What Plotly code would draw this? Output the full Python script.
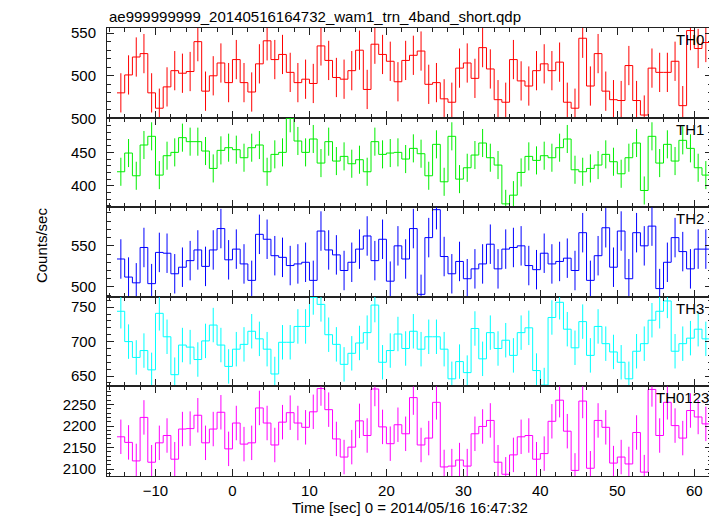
import plotly.graph_objects as go
from plotly.subplots import make_subplots

# Bin centres [sec] (1 s bins)
TIME = [-14.5, -13.5, -12.5, -11.5, -10.5, -9.5, -8.5, -7.5, -6.5, -5.5,
        -4.5, -3.5, -2.5, -1.5, -0.5, 0.5, 1.5, 2.5, 3.5, 4.5,
        5.5, 6.5, 7.5, 8.5, 9.5, 10.5, 11.5, 12.5, 13.5, 14.5,
        15.5, 16.5, 17.5, 18.5, 19.5, 20.5, 21.5, 22.5, 23.5, 24.5,
        25.5, 26.5, 27.5, 28.5, 29.5, 30.5, 31.5, 32.5, 33.5, 34.5,
        35.5, 36.5, 37.5, 38.5, 39.5, 40.5, 41.5, 42.5, 43.5, 44.5,
        45.5, 46.5, 47.5, 48.5, 49.5, 50.5, 51.5, 52.5, 53.5, 54.5,
        55.5, 56.5, 57.5, 58.5, 59.5, 60.5, 61.5]
BIN_HALF = 0.5

TH0 = [480, 501, 522, 526, 480, 462, 487, 506, 503, 505,
       540, 482, 500, 515, 492, 519, 492, 481, 514, 541,
       519, 525, 504, 492, 496, 491, 535, 518, 498, 496,
       506, 530, 484, 537, 525, 517, 493, 518, 524, 529,
       490, 492, 473, 469, 509, 515, 497, 533, 508, 472,
       469, 519, 494, 488, 506, 514, 506, 516, 469, 462,
       544, 488, 526, 482, 472, 471, 512, 471, 454, 509,
       504, 504, 517, 465, 553, 532, 539]

TH1 = [421, 449, 415, 461, 474, 416, 445, 450, 472, 466,
       466, 452, 426, 453, 457, 454, 442, 457, 461, 421,
       447, 450, 501, 467, 450, 470, 434, 466, 437, 444,
       433, 439, 421, 466, 447, 449, 450, 440, 456, 448,
       415, 462, 406, 474, 410, 427, 446, 464, 442, 431,
       373, 386, 420, 444, 438, 445, 442, 457, 470, 424,
       421, 426, 431, 447, 436, 418, 442, 464, 393, 474,
       434, 462, 437, 468, 456, 427, 416]

TH2 = [534, 512, 505, 548, 504, 542, 541, 516, 524, 532,
       545, 525, 545, 571, 533, 546, 528, 508, 564, 558,
       538, 536, 526, 528, 530, 508, 568, 545, 539, 520,
       530, 546, 562, 532, 558, 507, 550, 534, 571, 491,
       560, 594, 537, 516, 531, 510, 522, 528, 552, 522,
       546, 548, 550, 526, 521, 541, 528, 531, 535, 520,
       566, 508, 538, 572, 524, 568, 510, 566, 550, 574,
       498, 530, 560, 543, 522, 546, 546]

TH3 = [744, 700, 677, 687, 659, 741, 707, 652, 695, 692,
       674, 701, 724, 695, 664, 689, 696, 715, 704, 689,
       653, 699, 699, 722, 722, 764, 754, 710, 696, 667,
       683, 698, 713, 753, 670, 687, 711, 690, 715, 689,
       707, 707, 689, 646, 671, 655, 719, 675, 713, 690,
       702, 680, 713, 720, 658, 637, 735, 757, 718, 691,
       729, 680, 722, 697, 685, 670, 646, 686, 697, 731,
       744, 759, 686, 697, 705, 718, 704]

TH0123 = [2175, 2162, 2119, 2220, 2116, 2161, 2178, 2123, 2193, 2194,
          2225, 2161, 2193, 2232, 2147, 2207, 2158, 2161, 2242, 2207,
          2156, 2209, 2231, 2207, 2197, 2233, 2287, 2238, 2170, 2128,
          2151, 2212, 2178, 2286, 2198, 2159, 2203, 2182, 2266, 2156,
          2172, 2255, 2105, 2107, 2121, 2107, 2182, 2199, 2213, 2116,
          2088, 2133, 2175, 2178, 2123, 2136, 2211, 2260, 2188, 2097,
          2258, 2102, 2213, 2197, 2114, 2128, 2112, 2185, 2093, 2285,
          2178, 2255, 2201, 2172, 2236, 2221, 2205]

NAMES = ["TH0", "TH1", "TH2", "TH3", "TH0123"]
SERIES = [TH0, TH1, TH2, TH3, TH0123]
ERRORS = [23, 21, 24, 25, 40]
COLORS = ["#ff0000", "#00ee00", "#0000ff", "#00ffff", "#ff00ff"]
YRANGES = [[451, 556], [368, 502], [488, 597], [635, 765], [2084, 2292]]

XRANGE = [-16.3, 62.3]
TITLE = "ae999999999_20140516164732_wam1_trn_4band_short.qdp"
XTITLE = "Time [sec] 0 = 2014/05/16 16:47:32"
YTITLE = "Counts/sec"

FONT = "Liberation Sans, Arial, Helvetica, sans-serif"

fig = make_subplots(rows=5, cols=1, shared_xaxes=True, vertical_spacing=0)

edges = [t - BIN_HALF for t in TIME] + [TIME[-1] + BIN_HALF]
for i, (vals, err, col) in enumerate(zip(SERIES, ERRORS, COLORS)):
    r = i + 1
    fig.add_trace(go.Scatter(x=edges, y=vals + [vals[-1]], mode="lines",
                             line=dict(color=col, width=1, shape="hv"),
                             hoverinfo="skip", showlegend=False), row=r, col=1)
    fig.add_trace(go.Scatter(x=TIME, y=vals, mode="markers",
                             marker=dict(size=0.1, color=col),
                             error_y=dict(type="constant", value=err, color=col,
                                          thickness=1, width=0),
                             hoverinfo="skip", showlegend=False), row=r, col=1)

axis_common = dict(showline=True, linecolor="#222222", linewidth=1, mirror="allticks",
                   ticks="inside", ticklen=7, tickwidth=1, tickcolor="#222222",
                   showgrid=False, zeroline=False,
                   tickfont=dict(family=FONT, size=15, color="black"))

for r in range(1, 6):
    fig.update_xaxes(range=XRANGE, dtick=10, tick0=0,
                     minor=dict(dtick=2, ticks="inside", ticklen=4, tickcolor="#222222",
                                showgrid=False),
                     showticklabels=(r == 5), ticklabelstandoff=1,
                     **axis_common, row=r, col=1)
    fig.update_yaxes(range=YRANGES[r - 1], dtick=50, tick0=0,
                     minor=dict(dtick=10, ticks="inside", ticklen=4, tickcolor="#222222",
                                showgrid=False),
                     ticklabelstandoff=7, **axis_common, row=r, col=1)

annotations = []
for r, name in enumerate(NAMES, start=1):
    yref = "y domain" if r == 1 else f"y{r} domain"
    if len(name) > 3:
        pos = dict(x=1, xanchor="right", xshift=-1)
    else:
        pos = dict(x=0.964, xanchor="center")
    annotations.append(dict(text=name, xref="paper", yref=yref, y=1, yanchor="top",
                            yshift=-1, showarrow=False,
                            font=dict(family=FONT, size=15, color="black"), **pos))
annotations.append(dict(text=TITLE, xref="paper", x=0, xanchor="left", yref="paper",
                        y=1, yanchor="bottom", yshift=1, showarrow=False,
                        font=dict(family=FONT, size=15, color="black")))
annotations.append(dict(text=XTITLE, xref="paper", x=0.5, xanchor="center", yref="paper",
                        y=0, yanchor="middle", yshift=-31, showarrow=False,
                        font=dict(family=FONT, size=15, color="black")))
annotations.append(dict(text=YTITLE, xref="paper", x=-0.107, xanchor="center",
                        yref="paper", y=0.516, yanchor="middle", textangle=-90,
                        showarrow=False, font=dict(family=FONT, size=15, color="black")))

# The page adds an 8 px body margin, so the figure is 8 px smaller each way.
fig.update_layout(width=709, height=508, margin=dict(l=99, r=5, t=20, b=40),
                  plot_bgcolor="white", paper_bgcolor="white",
                  annotations=annotations, showlegend=False)

fig.write_html("out.html")
